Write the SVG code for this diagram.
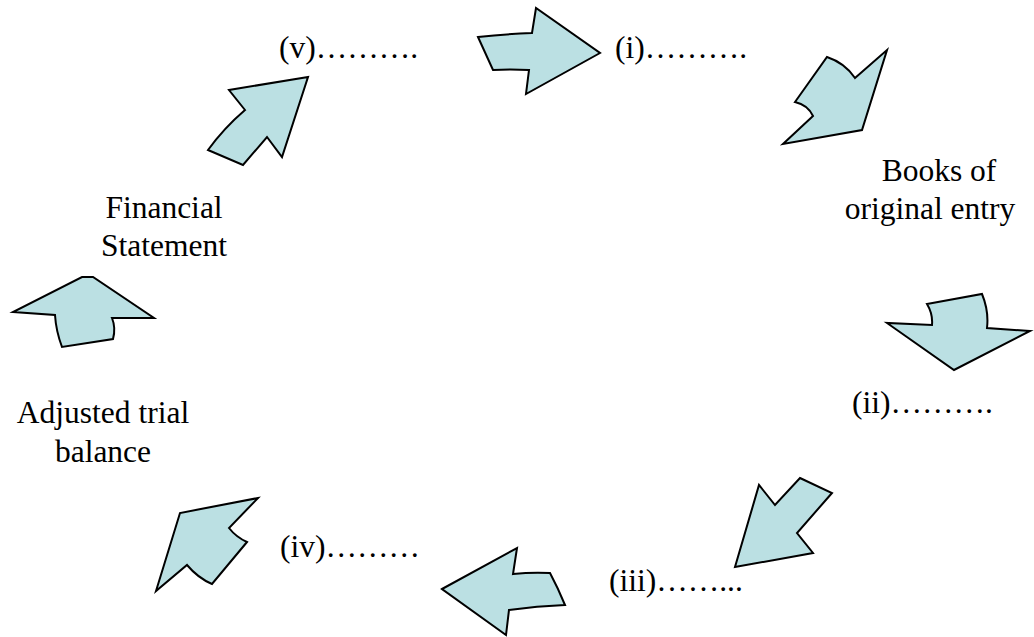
<svg xmlns="http://www.w3.org/2000/svg" width="1034" height="637" viewBox="0 0 1034 637">
<style>
.lbl{font-family:"Liberation Serif","Times New Roman",serif;font-size:31.5px;fill:#000}
.arr{fill:#BBE0E3;stroke:#000;stroke-width:2;stroke-linejoin:miter}
</style>
<rect width="1034" height="637" fill="#fff"/>
<g id="connectors">
<path class="arr" d="M478,37 Q505,34 532,33 L536,8 L600,53 L526,94 L529,70 Q510,69 493,70 Z"/>
<path class="arr" d="M827,57 Q845,63 855,78 L887,50 L862,130 L783,144 L813,116 Q808,105 795,102 Z"/>
<path class="arr" d="M927,304 Q955,299 982,294 Q989,311 987,328 L1030,331 L954,370 L887,323 L932,325 Q933,314 927,304 Z"/>
<path class="arr" d="M800,478 L832,493 L797,533 L813,553 L735,567 L759,485 L775,505 Z"/>
<path class="arr" d="M442,589 L517,548 L513,574 Q532,572 550,573 Q558,588 565,605 Q537,606 509,610 L506,635 Z"/>
<path class="arr" d="M258,498 L180,513 L156,591 L187,565 Q198,578 212,584 L247,542 Q236,537 229,528 Z"/>
<path class="arr" d="M82,277 L93,277 L154,318 L112,318 Q116,328 113,339 L62,347 Q56,331 55,315 L13,312 Z"/>
<path class="arr" d="M308,77 L229,90 L245,110 Q224,128 208,150 L243,165 L267,137 L282,157 Z"/>
</g>
<g id="node-i"><text class="lbl" x="615" y="58">(i)……….</text></g>
<g id="node-books"><text class="lbl" x="939" y="181" text-anchor="middle">Books of</text><text class="lbl" x="930" y="219" text-anchor="middle">original entry</text></g>
<g id="node-ii"><text class="lbl" x="852" y="413">(ii)……….</text></g>
<g id="node-iii"><text class="lbl" x="609" y="591">(iii)……...</text></g>
<g id="node-iv"><text class="lbl" x="280" y="557">(iv)………</text></g>
<g id="node-atb"><text class="lbl" x="103" y="423" text-anchor="middle">Adjusted trial</text><text class="lbl" x="103" y="462" text-anchor="middle">balance</text></g>
<g id="node-fs"><text class="lbl" x="164" y="218" text-anchor="middle">Financial</text><text class="lbl" x="164" y="256" text-anchor="middle">Statement</text></g>
<g id="node-v"><text class="lbl" x="279" y="58">(v)……….</text></g>
</svg>
